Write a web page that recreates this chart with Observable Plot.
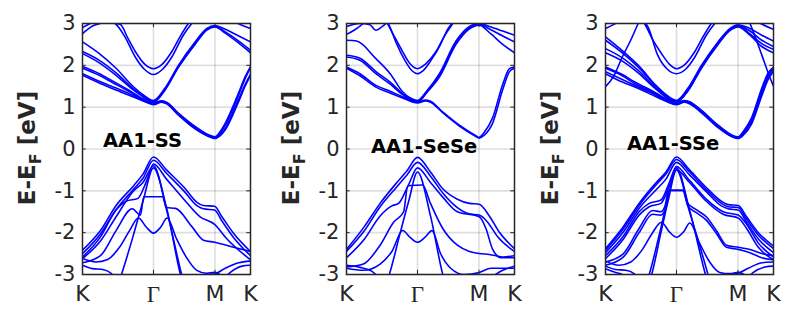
<!DOCTYPE html>
<html><head><meta charset="utf-8">
<script src="https://cdn.jsdelivr.net/npm/d3@7"></script>
<script src="https://cdn.jsdelivr.net/npm/@observablehq/plot@0.6"></script>
<style>
body{margin:0;background:#fff;}
#wrap{position:relative;width:789px;height:309px;overflow:hidden;}
.panel{position:absolute;top:0;}
</style></head><body><div id="wrap"></div>
<script>
// ---- data ----
const kTicks = [0, 0.4226, 0.7887, 1];
const kLabels = ["K", "Γ", "M", "K"];
const yTicks = [-3, -2, -1, 0, 1, 2, 3];
const panelNames = ["AA1-SS", "AA1-SeSe", "AA1-SSe"];
const titleAt = [[0.357, 0.2], [0.462, 0.06], [0.402, 0.12]];

// each band: list of [k, E-EF]
const bandsSS = [
 [[0,2.56],[.1,2.28],[.2,1.93],[.3,1.5],[.36,1.3],[.4226,1.16],[.49,1.45],[.571,2.0],[.67,2.56],[.74,2.88],[.7887,2.95],[.85,2.86],[.93,2.7],[1,2.56]],
 [[0,2.33],[.1,2.12],[.2,1.82],[.3,1.45],[.36,1.27],[.4226,1.13],[.49,1.42],[.571,1.97],[.67,2.53],[.74,2.86],[.7887,2.93],[.85,2.8],[.93,2.58],[1,2.36]],
 [[0,2.28],[.1,2.06],[.2,1.76],[.3,1.42],[.36,1.25],[.4226,1.12],[.49,1.4],[.571,1.95],[.67,2.5],[.74,2.84],[.7887,2.92],[.85,2.77],[.93,2.53],[1,2.3]],
 [[0,1.97],[.1,1.8],[.173,1.64],[.274,1.41],[.36,1.2],[.4226,1.1],[.47,1.15],[.5,1.12],[.571,0.86],[.67,0.54],[.75,0.34],[.7887,0.29],[.82,0.42],[.85,0.62],[.93,1.35],[.97,1.74],[1,1.97]],
 [[0,1.93],[.1,1.76],[.173,1.6],[.274,1.38],[.36,1.18],[.4226,1.09],[.47,1.14],[.5,1.1],[.571,0.84],[.67,0.52],[.75,0.32],[.7887,0.27],[.82,0.39],[.85,0.57],[.93,1.3],[.97,1.7],[1,1.94]],
 [[0,1.8],[.1,1.62],[.173,1.5],[.274,1.33],[.36,1.17],[.4226,1.08],[.47,1.13],[.5,1.1],[.571,0.83],[.67,0.5],[.75,0.31],[.7887,0.26],[.82,0.35],[.85,0.5],[.93,1.2],[.97,1.56],[1,1.79]],
 [[0,1.76],[.1,1.58],[.173,1.45],[.274,1.29],[.36,1.15],[.4226,1.06],[.47,1.12],[.5,1.08],[.571,0.81],[.67,0.48],[.75,0.3],[.7887,0.25],[.82,0.32],[.85,0.46],[.93,1.14],[.97,1.52],[1,1.75]],
 [[0,2.76],[.07,2.96],[.15,3.02],[.224,2.98],[.27,2.65],[.314,2.33],[.37,2.03],[.4226,1.92],[.475,2.03],[.532,2.33],[.58,2.68],[.63,3.0],[.7,3.3],[.79,3.4],[.88,3.1],[1,2.88]],
 [[0,2.9],[.08,3.05],[.15,3.08],[.2,2.98],[.25,2.7],[.314,2.2],[.37,1.9],[.4226,1.78],[.475,1.9],[.532,2.2],[.6,2.72],[.65,3.0],[.72,3.3],[.79,3.5],[.9,3.2],[1,3.02]],
 // valence
 [[0,-2.42],[.107,-1.95],[.2,-1.35],[.306,-0.87],[.36,-0.6],[.4226,-0.19],[.5,-0.5],[.603,-0.91],[.683,-1.28],[.72,-1.35],[.786,-1.37],[.83,-1.62],[.9,-2.02],[1,-2.45]],
 [[0,-2.5],[.107,-2.03],[.2,-1.45],[.3,-0.98],[.36,-0.7],[.4226,-0.27],[.5,-0.58],[.603,-1.0],[.683,-1.36],[.72,-1.43],[.786,-1.46],[.83,-1.72],[.9,-2.12],[1,-2.55]],
 [[0,-2.58],[.107,-2.1],[.2,-1.45],[.26,-1.25],[.33,-1.18],[.38,-0.78],[.4226,-0.36],[.5,-0.72],[.603,-1.2],[.7,-1.62],[.786,-1.8],[.86,-2.15],[1,-2.65]],
 [[.18,-3.6],[.232,-3.0],[.3,-2.1],[.36,-1.25],[.4226,-0.45],[.5,-1.4],[.583,-3.0],[.63,-3.6]],
 [[0,-2.62],[.107,-2.2],[.2,-1.62],[.3,-1.02],[.36,-0.8],[.4226,-0.4],[.5,-1.45],[.59,-3.0],[.63,-3.6]],
 [[0,-2.72],[.107,-2.55],[.2,-1.95],[.296,-1.43],[.345,-1.58],[.365,-1.14],[.476,-1.14],[.5,-1.4],[.554,-1.42],[.65,-1.85],[.72,-2.18],[.786,-2.23],[.9,-2.35],[1,-2.45]],
 [[0,-2.62],[.08,-2.7],[.15,-2.64],[.22,-2.35],[.28,-1.95],[.333,-1.65],[.38,-1.87],[.4226,-2.01],[.465,-1.87],[.504,-1.65],[.56,-2.15],[.62,-2.6],[.68,-2.9],[.74,-2.97],[.786,-2.95],[.85,-3.1]],
 [[0,-2.78],[.06,-2.86],[.12,-2.88],[.17,-2.97],[.21,-3.2]],
 [[.7,-3.2],[.75,-3.0],[.79,-2.98],[.85,-2.85],[.93,-2.72],[1,-2.68]],
 [[.8,-3.3],[.88,-2.95],[.95,-2.8],[1,-2.78]]
];

const bandsSeSe = [
 [[0,2.6],[.06,2.58],[.175,2.16],[.26,1.8],[.334,1.37],[.38,1.22],[.4226,1.16],[.48,1.4],[.553,1.8],[.652,2.58],[.732,2.93],[.7887,3.0],[.85,2.93],[.93,2.82],[1,2.72]],
 [[0,2.24],[.08,2.17],[.175,1.85],[.26,1.6],[.334,1.32],[.38,1.2],[.4226,1.14],[.48,1.38],[.553,1.76],[.652,2.54],[.732,2.9],[.7887,2.98],[.86,2.85],[.93,2.7],[1,2.56]],
 [[0,2.2],[.08,2.12],[.175,1.8],[.26,1.55],[.334,1.3],[.4226,1.12],[.48,1.36],[.553,1.72],[.652,2.5],[.732,2.87],[.7887,2.96],[.86,2.75],[.93,2.5],[1,2.3]],
 [[0,1.96],[.08,1.8],[.175,1.52],[.26,1.38],[.334,1.25],[.4226,1.12],[.47,1.17],[.5,1.14],[.572,0.89],[.672,0.57],[.77,0.32],[.7887,0.28],[.82,0.4],[.87,0.75],[.93,1.55],[.97,1.92],[1,1.96]],
 [[0,1.93],[.08,1.75],[.175,1.48],[.26,1.34],[.334,1.22],[.4226,1.1],[.47,1.15],[.5,1.12],[.572,0.87],[.672,0.55],[.77,0.3],[.7887,0.26],[.82,0.33],[.87,0.62],[.93,1.42],[.97,1.85],[1,1.93]],
 [[0,2.93],[.08,3.0],[.14,2.97],[.174,2.84],[.21,2.92],[.24,3.02],[.3,3.3]],
 [[0,2.74],[.05,2.85],[.1,3.0],[.15,3.2]],
 [[.17,3.5],[.244,3.0],[.29,2.65],[.334,2.33],[.38,2.03],[.4226,1.92],[.47,2.03],[.533,2.33],[.58,2.68],[.632,3.0],[.7,3.5]],
 [[.2,3.4],[.26,2.9],[.3,2.5],[.35,2.1],[.39,1.87],[.4226,1.8],[.455,1.87],[.5,2.1],[.56,2.5],[.6,2.85],[.65,3.1],[.72,3.5]],
 // valence
 [[0,-2.4],[.107,-1.85],[.2,-1.3],[.3,-0.8],[.36,-0.52],[.4226,-0.2],[.5,-0.55],[.573,-0.95],[.66,-1.2],[.732,-1.3],[.79,-1.32],[.85,-1.6],[.91,-1.99],[1,-2.38]],
 [[0,-2.45],[.107,-1.95],[.2,-1.38],[.3,-0.9],[.36,-0.62],[.4226,-0.32],[.5,-0.65],[.573,-1.05],[.66,-1.4],[.73,-1.55],[.79,-1.58],[.84,-1.75],[.9,-2.1],[1,-2.45]],
 [[0,-2.6],[.107,-2.15],[.2,-1.6],[.27,-1.36],[.31,-1.3],[.37,-0.85],[.4226,-0.45],[.5,-0.8],[.573,-1.15],[.66,-1.5],[.79,-1.62],[.83,-1.9],[.87,-2.4],[.92,-2.6],[1,-2.6]],
 [[.2,-3.6],[.255,-3.0],[.32,-2.0],[.37,-1.25],[.4226,-0.55],[.5,-1.6],[.573,-3.0],[.62,-3.6]],
 [[0,-2.82],[.1,-2.75],[.2,-2.3],[.28,-1.75],[.34,-1.5],[.365,-0.88],[.453,-0.86],[.5,-1.3],[.573,-1.9],[.66,-2.3],[.732,-2.45],[.79,-2.5],[.85,-2.52],[.93,-2.58],[1,-2.55]],
 [[0,-2.85],[.1,-2.9],[.2,-2.75],[.27,-2.45],[.334,-1.95],[.38,-2.12],[.4226,-2.23],[.465,-2.12],[.509,-1.95],[.56,-2.5],[.62,-2.85],[.7,-3.0],[.79,-2.95],[.86,-2.85],[1,-2.85]],
 [[0,-2.78],[.08,-2.83],[.15,-2.92],[.2,-3.1]],
 [[.85,-3.1],[.93,-2.9],[1,-2.8]]
];

const bandsSSe = [
 [[0,2.68],[.1,2.35],[.2,1.98],[.3,1.52],[.36,1.3],[.4226,1.16],[.49,1.45],[.571,2.0],[.67,2.56],[.74,2.88],[.7887,2.97],[.85,2.9],[.93,2.72],[1,2.58]],
 [[0,2.6],[.1,2.3],[.2,1.94],[.3,1.5],[.4226,1.15],[.49,1.42],[.571,1.97],[.67,2.54],[.74,2.86],[.7887,2.95],[.86,2.82],[.93,2.6],[1,2.45]],
 [[0,2.4],[.1,2.18],[.2,1.86],[.3,1.46],[.4226,1.13],[.49,1.4],[.571,1.95],[.67,2.52],[.74,2.85],[.7887,2.94],[.86,2.75],[.93,2.52],[1,2.38]],
 [[0,2.3],[.1,2.1],[.2,1.8],[.3,1.43],[.4226,1.12],[.49,1.38],[.571,1.93],[.67,2.5],[.74,2.83],[.7887,2.92],[.86,2.72],[.93,2.45],[1,2.3]],
 [[0,1.96],[.1,1.78],[.175,1.6],[.274,1.4],[.36,1.2],[.4226,1.1],[.47,1.16],[.5,1.13],[.57,0.93],[.67,0.57],[.75,0.34],[.7887,0.29],[.82,0.42],[.87,0.75],[.93,1.45],[.968,1.82],[1,1.96]],
 [[0,1.93],[.1,1.75],[.175,1.56],[.274,1.37],[.36,1.18],[.4226,1.09],[.47,1.15],[.5,1.12],[.57,0.91],[.67,0.55],[.75,0.32],[.7887,0.27],[.82,0.39],[.87,0.7],[.93,1.4],[.968,1.78],[1,1.93]],
 [[0,1.85],[.1,1.66],[.175,1.52],[.274,1.34],[.36,1.16],[.4226,1.08],[.47,1.14],[.5,1.1],[.57,0.89],[.67,0.53],[.75,0.31],[.7887,0.26],[.82,0.36],[.87,0.65],[.93,1.33],[.968,1.72],[1,1.9]],
 [[0,1.8],[.1,1.6],[.175,1.48],[.274,1.3],[.36,1.14],[.4226,1.06],[.47,1.12],[.5,1.08],[.57,0.87],[.67,0.51],[.75,0.3],[.7887,0.25],[.82,0.33],[.87,0.6],[.93,1.27],[.968,1.66],[1,1.85]],
 [[0,1.49],[.05,1.75],[.1,2.2],[.15,2.6],[.195,3.0],[.22,3.2]],
 [[.85,3.1],[.88,2.8],[.93,2.25],[.97,1.8],[1,1.5]],
 [[0,2.88],[.05,2.98],[.1,3.1]],
 [[.1,3.5],[.18,3.2],[.232,3.0],[.28,2.62],[.33,2.3],[.38,2.03],[.4226,1.92],[.475,2.03],[.532,2.33],[.58,2.68],[.63,3.0],[.7,3.3],[.79,3.4],[.88,3.1],[1,2.86]],
 [[.12,3.5],[.2,3.15],[.255,2.9],[.31,2.25],[.37,1.9],[.4226,1.8],[.475,1.9],[.532,2.2],[.6,2.72],[.65,3.0],[.72,3.3],[.79,3.5],[.9,3.2],[1,3.0]],
 // valence
 [[0,-2.38],[.107,-1.85],[.2,-1.3],[.307,-0.78],[.36,-0.55],[.4226,-0.19],[.5,-0.5],[.6,-0.92],[.69,-1.25],[.73,-1.33],[.79,-1.35],[.84,-1.62],[.91,-2.0],[1,-2.32]],
 [[0,-2.42],[.107,-1.9],[.2,-1.35],[.307,-0.83],[.36,-0.6],[.4226,-0.25],[.5,-0.55],[.6,-0.97],[.69,-1.3],[.73,-1.38],[.79,-1.4],[.84,-1.68],[.91,-2.06],[1,-2.38]],
 [[0,-2.48],[.107,-1.98],[.2,-1.42],[.3,-0.98],[.36,-0.72],[.4226,-0.32],[.5,-0.62],[.6,-1.02],[.69,-1.36],[.73,-1.43],[.79,-1.46],[.84,-1.75],[.91,-2.15],[1,-2.48]],
 [[0,-2.55],[.107,-2.08],[.2,-1.5],[.26,-1.3],[.33,-1.22],[.38,-0.8],[.4226,-0.42],[.5,-0.75],[.6,-1.2],[.7,-1.5],[.79,-1.58],[.84,-1.8],[.91,-2.25],[1,-2.58]],
 [[0,-2.62],[.107,-2.15],[.2,-1.58],[.26,-1.38],[.33,-1.3],[.38,-0.88],[.4226,-0.5],[.5,-0.8],[.6,-1.25],[.7,-1.56],[.79,-1.65],[.84,-1.9],[.91,-2.35],[1,-2.65]],
 [[.2,-3.6],[.26,-3.0],[.32,-2.05],[.37,-1.2],[.4226,-0.45],[.5,-1.45],[.595,-3.0],[.64,-3.6]],
 [[.22,-3.6],[.275,-3.0],[.33,-2.0],[.375,-1.2],[.4226,-0.5],[.5,-1.5],[.61,-3.0],[.65,-3.6]],
 [[0,-2.7],[.107,-2.5],[.2,-1.9],[.28,-1.47],[.33,-1.5],[.355,-1.35],[.375,-0.99],[.463,-0.99],[.49,-1.3],[.54,-1.45],[.6,-1.62],[.66,-1.95],[.72,-2.3],[.79,-2.35],[.86,-2.4],[.93,-2.5],[1,-2.55]],
 [[0,-2.78],[.107,-2.58],[.2,-2.0],[.28,-1.56],[.33,-1.58],[.36,-1.4],[.378,-0.99],[.46,-0.99],[.49,-1.36],[.54,-1.52],[.6,-1.7],[.66,-2.02],[.72,-2.35],[.79,-2.4],[.86,-2.48],[.93,-2.6],[1,-2.65]],
 [[0,-2.68],[.08,-2.78],[.15,-2.7],[.22,-2.4],[.28,-2.0],[.333,-1.75],[.38,-1.98],[.4226,-2.11],[.465,-1.98],[.502,-1.77],[.56,-2.25],[.62,-2.7],[.68,-2.95],[.74,-2.98],[.79,-2.95],[.86,-3.1]],
 [[0,-2.8],[.06,-2.88],[.12,-2.9],[.17,-2.98],[.21,-3.2]],
 [[0,-2.86],[.06,-2.95],[.1,-3.0],[.14,-3.2]],
 [[.7,-3.2],[.75,-3.0],[.79,-2.97],[.85,-2.85],[.93,-2.72],[1,-2.7]],
 [[.8,-3.3],[.88,-2.95],[.95,-2.82],[1,-2.8]]
];
const allBands = [bandsSS, bandsSeSe, bandsSSe];

// ---- layout ----
const panelLeft = [0, 264, 523];
const W = 263, H = 309;
const ink = "#262626";

function makePanel(p) {
  const rows = allBands[p].flatMap((b, i) => b.map(([k, E]) => ({band: i, k, E})));
  const svg = Plot.plot({
    width: W, height: H,
    marginLeft: 82, marginRight: 13, marginTop: 23, marginBottom: 35,
    style: {fontFamily: "DejaVu Sans", color: ink, background: "white", overflow: "visible"},
    x: {domain: [0, 1]},
    y: {domain: [-3, 3]},
    marks: [
      Plot.gridY(yTicks, {stroke: "#000", strokeOpacity: 0.13, strokeWidth: 1.6}),
      Plot.gridX([kTicks[1], kTicks[2]], {stroke: "#000", strokeOpacity: 0.13, strokeWidth: 1.6}),
      Plot.line(rows, {x: "k", y: "E", z: "band", stroke: "#0000ff", strokeWidth: 1.6, curve: "monotone-x", clip: true}),
      Plot.ruleY(yTicks, {x1: 0, x2: 0.022, stroke: ink}),
      Plot.ruleY(yTicks, {x1: 0.978, x2: 1, stroke: ink}),
      Plot.ruleX([kTicks[1], kTicks[2]], {y1: -3, y2: -2.9, stroke: ink}),
      Plot.ruleX([kTicks[1], kTicks[2]], {y1: 2.9, y2: 3, stroke: ink}),
      Plot.frame({stroke: ink, strokeWidth: 1.5}),
      Plot.axisY(yTicks, {tickSize: 0, tickPadding: 7, fontSize: 21, tickFormat: d => String(d), label: null}),
      Plot.axisX([kTicks[0], kTicks[2], kTicks[3]], {tickSize: 0, tickPadding: 11, fontSize: 22, tickFormat: d => kLabels[kTicks.indexOf(d)], label: null}),
      Plot.axisX([kTicks[1]], {tickSize: 0, tickPadding: 11, fontSize: 23, fontFamily: "Liberation Serif", tickFormat: d => kLabels[kTicks.indexOf(d)], label: null}),
      Plot.text([panelNames[p]], {x: titleAt[p][0], y: titleAt[p][1], text: d => d, fontWeight: "bold", fontSize: 19.5, fill: "#000"})
    ]
  });
  const t = d3.select(svg).append("text")
    .attr("transform", "translate(35,148) rotate(-90)")
    .attr("text-anchor", "middle").attr("font-weight", "bold")
    .attr("font-size", 23).attr("fill", ink).attr("font-family", "DejaVu Sans");
  t.append("tspan").text("E-E");
  t.append("tspan").attr("font-size", 16).attr("dy", 6).text("F");
  t.append("tspan").attr("dy", -6).text(" [eV]");
  const div = document.createElement("div");
  div.className = "panel";
  div.style.left = panelLeft[p] + "px";
  div.appendChild(svg);
  document.getElementById("wrap").appendChild(div);
}
[0, 1, 2].forEach(makePanel);
</script></body></html>
